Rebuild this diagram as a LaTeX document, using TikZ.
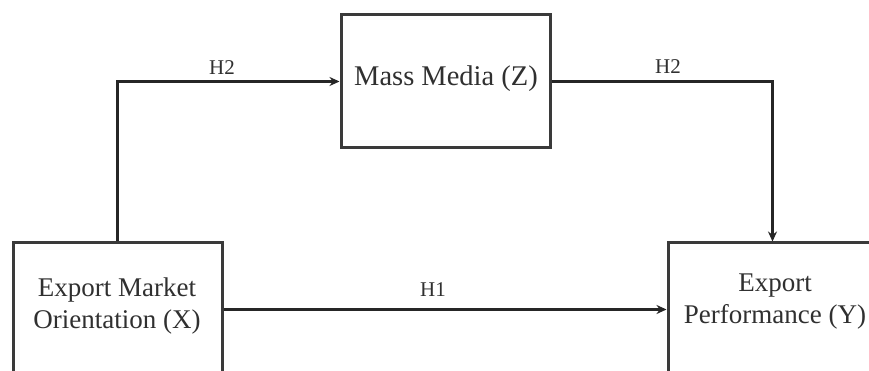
\documentclass[tikz,border=0pt]{standalone}
\usepackage{fontspec}
\setmainfont{Liberation Serif}
\usetikzlibrary{arrows.meta}
\definecolor{inkgray}{HTML}{303030}
\definecolor{framegray}{HTML}{3A3A3A}
\tikzset{
  varbox/.style={draw=framegray, line width=3pt, minimum width=209pt, minimum height=133pt,
    inner sep=0pt},
  boxtext/.style={align=center, text=inkgray, inner sep=0pt, font=\fontsize{27}{32}\selectfont},
  link/.style={draw=black!85, line width=2.4pt, -{Stealth[length=10pt,width=9pt]}},
  hyp/.style={text=inkgray, font=\fontsize{21}{22}\selectfont, inner sep=0pt}
}
\begin{document}
\begin{tikzpicture}[x=1pt,y=1pt]
  \useasboundingbox (0,0) rectangle (869,371);
  \clip (0,0) rectangle (869,371);
  \fill[white] (0,0) rectangle (869,371);

  % the three variables
  \node[varbox] (mm) at (445.5,289.5) {};
  \node[varbox] (em) at (117.5,61.5) {};
  \node[varbox] (ep) at (772.5,61.5) {};
  \node[boxtext, font=\fontsize{28.5}{32}\selectfont] (mmt) at (446,292) {Mass Media (Z)};
  \node[boxtext] (emt) at (117,65) {Export Market\\Orientation (X)};
  \node[boxtext] (ept) at (775,69) {Export\\Performance (Y)};

  % hypothesised paths
  \draw[link] (em.east) -- (ep.west);
  \draw[link] (em.north) |- (mm.west);
  \draw[link] (mm.east) -| (ep.north);

  % hypothesis labels
  \node[hyp] (h1) at (433,81) {H1};
  \node[hyp] (h2a) at (222,303) {H2};
  \node[hyp] (h2b) at (668,304) {H2};
\end{tikzpicture}
\end{document}
